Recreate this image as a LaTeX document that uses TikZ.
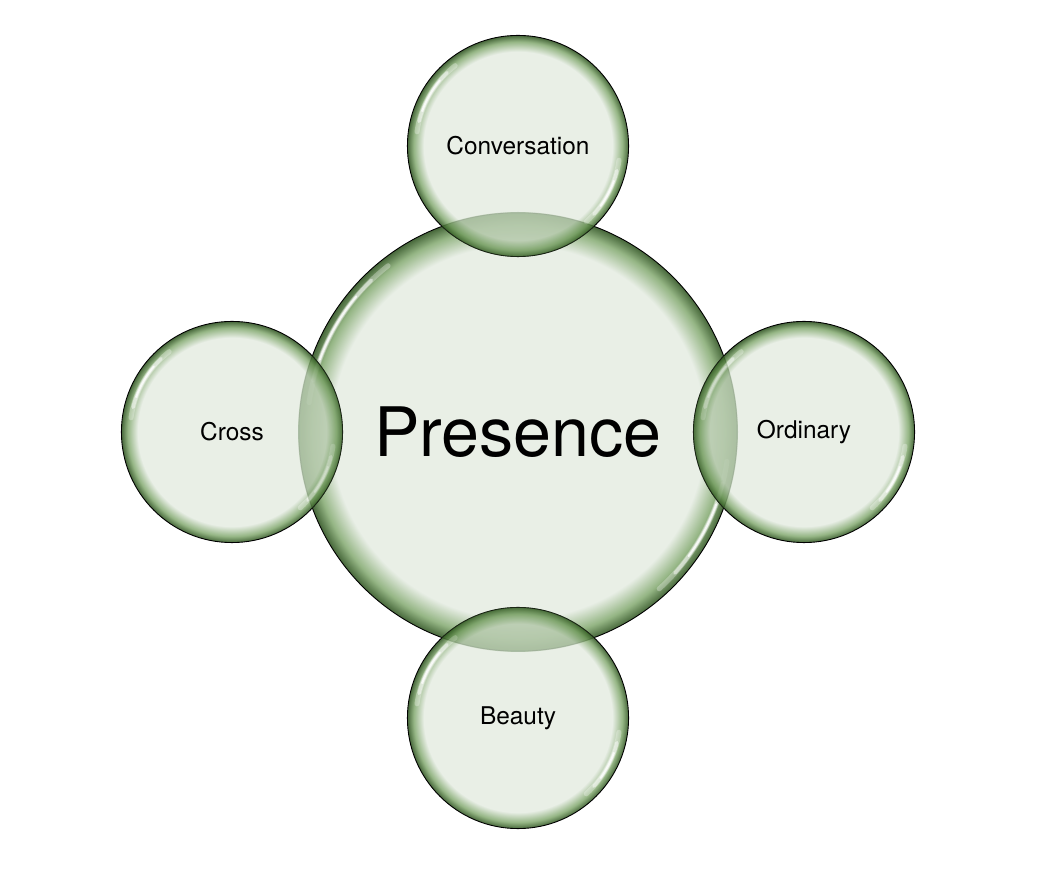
\documentclass[tikz,border=0pt]{standalone}
\usepackage{fontspec}
\setmainfont{TeX Gyre Heros}
\definecolor{bin}{RGB}{228,235,225}
\definecolor{bmid}{RGB}{125,165,105}
\definecolor{bedge}{RGB}{30,70,15}
\definecolor{lens}{RGB}{95,140,75}
\pgfdeclareradialshading{bubble}{\pgfpoint{0bp}{0bp}}{color(0bp)=(bin); color(21.3bp)=(bin); color(23.6bp)=(bmid); color(25bp)=(bedge); color(50bp)=(bedge)}
\tikzset{
  bubble/.style={circle, draw=black, line width=0.9pt, inner sep=0pt,
    minimum size=2*#1, shading=bubble, fill opacity=0.82, text opacity=1,
    path picture={
      \foreach \a/\b/\w/\o in {128/172/5/0.3, 134/166/3.5/0.5, 140/160/2/0.8,
                               -48/-8/5/0.3, -42/-14/3.5/0.5, -36/-20/2/0.8}{
        \draw[white, line width=\w, opacity=\o, line cap=round]
          (path picture bounding box.center) ++(\a:#1-9)
          arc[start angle=\a, end angle=\b, radius=#1-9];
      }
    }},
  lensfill/.style={fill=lens, fill opacity=0.28},
  small/.style={font=\fontsize{24.5}{28}\selectfont},
  big/.style={font=\fontsize{68.5}{72}\selectfont}
}
\begin{document}
\begin{tikzpicture}[x=1bp,y=1bp]
\useasboundingbox (0,0) rectangle (1048,870);
\node[bubble=220, big] (main) at (518,438) {Presence};
\node[bubble=111, small] (top) at (518,724) {Conversation};
\node[bubble=111, small] (left) at (232,438) {Cross};
\node[bubble=111, small] (right) at (804,438) {Ordinary};
\node[bubble=111, small] (bottom) at (518,152) {Beauty};
\begin{scope}
  \clip (main.center) circle[radius=220];
  \foreach \n in {top,left,right,bottom}{
    \path[lensfill] (\n.center) circle[radius=111];
  }
\end{scope}
\end{tikzpicture}
\end{document}
